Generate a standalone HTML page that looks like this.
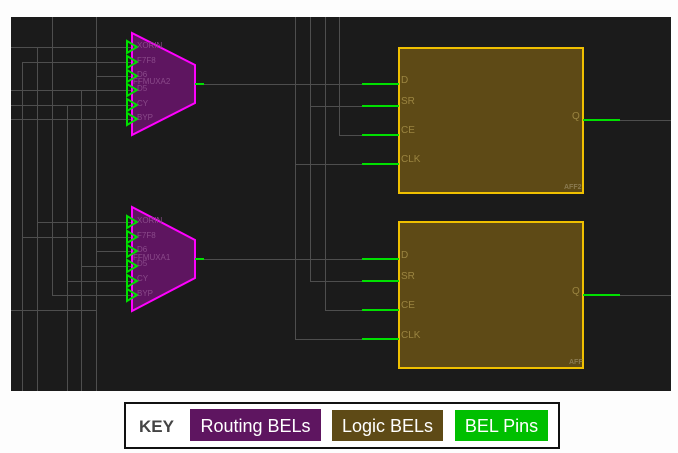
<!DOCTYPE html>
<html><head><style>
body{margin:0;background:#fdfdfd;width:678px;height:453px;overflow:hidden;font-family:"Liberation Sans",sans-serif}
svg{position:absolute;left:0;top:0}
</style></head><body>
<svg width="678" height="453" viewBox="0 0 678 453">
<rect x="11" y="17" width="660" height="374" fill="#1b1b1b"/>
<g stroke="#4e4e4e" stroke-width="1" fill="none">
<line x1="52.5" y1="17" x2="52.5" y2="295"/>
<line x1="96.5" y1="17" x2="96.5" y2="391"/>
<line x1="37.5" y1="47" x2="37.5" y2="391"/>
<line x1="22.5" y1="62" x2="22.5" y2="391"/>
<line x1="81.5" y1="90" x2="81.5" y2="391"/>
<line x1="67.5" y1="105" x2="67.5" y2="391"/>
<line x1="11" y1="47.5" x2="132" y2="47.5"/>
<line x1="22" y1="62.5" x2="132" y2="62.5"/>
<line x1="96" y1="76.5" x2="132" y2="76.5"/>
<line x1="11" y1="90.5" x2="132" y2="90.5"/>
<line x1="11" y1="105.5" x2="132" y2="105.5"/>
<line x1="11" y1="119.5" x2="132" y2="119.5"/>
<line x1="37" y1="222.5" x2="132" y2="222.5"/>
<line x1="22" y1="237.5" x2="132" y2="237.5"/>
<line x1="96" y1="251.5" x2="132" y2="251.5"/>
<line x1="81" y1="266.5" x2="132" y2="266.5"/>
<line x1="67" y1="281.5" x2="132" y2="281.5"/>
<line x1="52" y1="295.5" x2="132" y2="295.5"/>
<line x1="11" y1="310.5" x2="96" y2="310.5"/>
<line x1="295.5" y1="17" x2="295.5" y2="339"/>
<line x1="310.5" y1="17" x2="310.5" y2="281"/>
<line x1="325.5" y1="17" x2="325.5" y2="310"/>
<line x1="339.5" y1="17" x2="339.5" y2="135"/>
<line x1="204" y1="84.5" x2="362" y2="84.5"/>
<line x1="310" y1="106.5" x2="362" y2="106.5"/>
<line x1="339" y1="135.5" x2="362" y2="135.5"/>
<line x1="295" y1="164.5" x2="362" y2="164.5"/>
<line x1="204" y1="259.5" x2="362" y2="259.5"/>
<line x1="310" y1="281.5" x2="362" y2="281.5"/>
<line x1="325" y1="310.5" x2="362" y2="310.5"/>
<line x1="295" y1="339.5" x2="362" y2="339.5"/>
<line x1="620" y1="120.5" x2="671" y2="120.5"/>
<line x1="620" y1="295.5" x2="671" y2="295.5"/>
</g>
<g fill="#5e1560" stroke="#ff00ff" stroke-width="2">
<polygon points="132,33 195,65 195,103 132,135"/>
<polygon points="132,207 195,240 195,278 132,311"/>
</g>
<g stroke="#00e000" stroke-width="2">
<line x1="195" y1="84" x2="204" y2="84"/>
<line x1="195" y1="259" x2="204" y2="259"/>
</g>
<g fill="none" stroke="#00e000" stroke-width="2">
<polygon points="127,41 127,53 137,47"/><polygon points="127,56 127,68 137,62"/>
<polygon points="127,70 127,82 137,76"/><polygon points="127,84 127,96 137,90"/>
<polygon points="127,99 127,111 137,105"/><polygon points="127,113 127,125 137,119"/>
<polygon points="127,216 127,228 137,222"/><polygon points="127,231 127,243 137,237"/>
<polygon points="127,245 127,257 137,251"/><polygon points="127,260 127,272 137,266"/>
<polygon points="127,275 127,287 137,281"/><polygon points="127,289 127,301 137,295"/>
</g>
<g fill="#8a4a8a" font-size="8" font-family="Liberation Sans,sans-serif">
<text x="137" y="48">XORIN</text><text x="137" y="63">F7F8</text><text x="137" y="77">D6</text>
<text x="133" y="84">FFMUXA2</text><text x="137" y="91">D5</text><text x="137" y="106">CY</text><text x="137" y="120">BYP</text>
<text x="137" y="223">XORIN</text><text x="137" y="238">F7F8</text><text x="137" y="252">D6</text>
<text x="133" y="260">FFMUXA1</text><text x="137" y="266">D5</text><text x="137" y="281">CY</text><text x="137" y="296">BYP</text>
</g>
<g fill="#5e4a16" stroke="#f0c000" stroke-width="2">
<rect x="399" y="48" width="184" height="145"/>
<rect x="399" y="222" width="184" height="146"/>
</g>
<g stroke="#00e000" stroke-width="2">
<line x1="362" y1="84" x2="399" y2="84"/><line x1="362" y1="106" x2="399" y2="106"/>
<line x1="362" y1="135" x2="399" y2="135"/><line x1="362" y1="164" x2="399" y2="164"/>
<line x1="362" y1="259" x2="399" y2="259"/><line x1="362" y1="281" x2="399" y2="281"/>
<line x1="362" y1="310" x2="399" y2="310"/><line x1="362" y1="339" x2="399" y2="339"/>
<line x1="583" y1="120" x2="620" y2="120"/><line x1="583" y1="295" x2="620" y2="295"/>
</g>
<g fill="#9a8440" font-size="10" font-family="Liberation Sans,sans-serif">
<text x="401" y="83">D</text><text x="401" y="104">SR</text><text x="401" y="133">CE</text><text x="401" y="162">CLK</text>
<text x="572" y="119">Q</text>
<text x="401" y="258">D</text><text x="401" y="279">SR</text><text x="401" y="308">CE</text><text x="401" y="338">CLK</text>
<text x="572" y="294">Q</text>
</g>
<g fill="#8a7a50" font-size="7" font-weight="bold" font-family="Liberation Sans,sans-serif">
<text x="564" y="189">AFF2</text><text x="569" y="364">AFF</text>
</g>
<rect x="125" y="403" width="434" height="45" fill="#fff" stroke="#111" stroke-width="2"/>
<text x="139" y="432" font-size="17" font-weight="bold" fill="#444">KEY</text>
<rect x="190" y="409" width="131" height="32" fill="#5e1560"/>
<text x="255.5" y="432" font-size="18" fill="#fff" text-anchor="middle">Routing BELs</text>
<rect x="332" y="410" width="111" height="31" fill="#5e4a16"/>
<text x="387.5" y="432" font-size="18" fill="#fff" text-anchor="middle">Logic BELs</text>
<rect x="455" y="410" width="93" height="31" fill="#00bf00"/>
<text x="501.5" y="432" font-size="18" fill="#fff" text-anchor="middle">BEL Pins</text>
</svg>
</body></html>
